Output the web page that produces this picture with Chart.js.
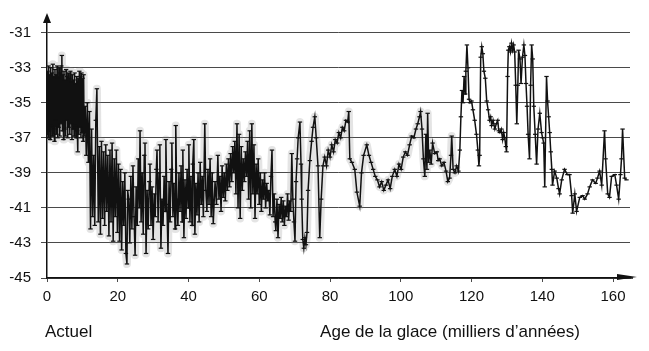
<!DOCTYPE html>
<html>
<head>
<meta charset="utf-8">
<script src="https://cdn.jsdelivr.net/npm/chart.js@4/dist/chart.umd.min.js"></script>
<style>
  html, body { margin: 0; padding: 0; background: #fff; }
  #wrap { position: relative; width: 649px; height: 351px; }
</style>
</head>
<body>
<div id="wrap"><canvas id="chart" width="649" height="351"></canvas></div>
<script>
/* ---------- data ---------- */
const ages = [
  0.0, 0.15, 0.3, 0.45, 0.6, 0.75, 0.9, 1.05, 1.2, 1.35,
  1.5, 1.65, 1.8, 1.95, 2.1, 2.25, 2.4, 2.55, 2.7, 2.85,
  3.0, 3.15, 3.3, 3.45, 3.6, 3.75, 3.9, 4.05, 4.2, 4.35,
  4.5, 4.65, 4.8, 4.95, 5.1, 5.25, 5.4, 5.55, 5.7, 5.85,
  6.0, 6.15, 6.3, 6.45, 6.6, 6.75, 6.9, 7.05, 7.2, 7.35,
  7.5, 7.65, 7.8, 7.95, 8.1, 8.25, 8.4, 8.55, 8.7, 8.85,
  9.0, 9.15, 9.3, 9.45, 9.6, 9.75, 9.9, 10.05, 10.2, 10.35,
  10.5, 10.8, 11.1, 11.4, 11.7,
  12.0, 12.3, 12.6, 12.9, 13.2, 13.5, 13.8, 14.1, 14.5, 14.8,
  15.1, 15.4, 15.7, 16.0, 16.3, 16.6, 16.9, 17.2, 17.5, 17.8,
  18.1, 18.4, 18.7, 19.0, 19.3, 19.6, 19.9, 20.2, 20.5, 20.8,
  21.1, 21.4, 21.7, 22.0, 22.3, 22.6, 22.8,
  23.1, 23.4, 23.7, 24.0, 24.3, 24.6, 24.9, 25.2, 25.5, 25.8,
  26.1, 26.3, 26.6, 26.9, 27.2, 27.5, 27.7, 28.0, 28.3, 28.6,
  28.9, 29.1, 29.4, 29.7, 30.0, 30.3, 30.6, 30.9, 31.1, 31.4,
  31.7, 31.9, 32.2, 32.5, 32.8, 33.1, 33.4, 33.6, 33.9, 34.2,
  34.5, 34.8, 35.1, 35.3, 35.6, 35.9, 36.2, 36.4, 36.7, 37.0,
  37.3, 37.6, 37.9, 38.2, 38.4, 38.7, 39.0, 39.3, 39.6, 39.9,
  40.1, 40.4, 40.7, 41.0, 41.2, 41.5, 41.8, 42.1, 42.4, 42.7,
  43.0, 43.3, 43.6, 43.9, 44.2, 44.6, 44.9, 45.2, 45.5, 45.8,
  46.1, 46.4, 46.7,
  47.0, 47.5, 47.9, 48.3, 48.6, 48.9, 49.2, 49.5, 49.8, 50.1,
  50.4, 50.7, 51.0, 51.3, 51.6, 51.9, 52.2, 52.5, 52.8, 53.1,
  53.4, 53.7, 54.0, 54.3, 54.6, 54.9, 55.2, 55.5, 55.8, 56.1,
  56.4, 56.7, 57.0, 57.3, 57.6, 57.9, 58.2, 58.5, 58.8, 59.1,
  59.4, 59.7, 60.0, 60.3, 60.6, 60.9, 61.2, 61.5, 61.8, 62.1,
  62.4, 62.7, 63.0, 63.3, 63.6, 63.9, 64.2, 64.5, 64.7, 65.0,
  65.3, 65.6, 65.9, 66.2, 66.5, 66.8, 67.1, 67.4, 67.7, 68.0,
  68.3, 68.6, 68.9, 69.2, 69.5, 69.8, 70.1, 70.4, 70.7, 71.0,
  71.5, 71.8,
  72.0, 72.3, 72.6, 72.9, 73.2, 73.5, 73.8, 74.3, 74.8, 75.2,
  75.7, 76.1, 76.6, 77.1, 77.5, 78.0, 78.5, 79.0, 79.5, 80.0,
  80.5, 81.0, 81.5, 82.0, 82.5, 83.0, 83.5, 84.0, 84.5, 85.0,
  85.3, 85.6, 86.2, 87.0, 87.6, 88.4, 88.9, 89.5, 90.4, 91.0,
  91.6, 92.2, 92.8, 93.4, 94.0, 94.6, 95.2, 95.8,
  96.4, 97.0, 97.6, 98.3, 98.9, 99.5, 100.1, 100.7, 101.3, 101.9,
  102.5, 103.1, 103.7, 104.3, 104.8, 105.3, 105.6, 106.0, 106.4, 106.8,
  107.1, 107.4, 107.6, 107.9, 108.2, 108.6, 109.0, 109.6, 110.2, 110.6,
  111.0, 111.6, 112.2, 112.8, 113.3, 113.8, 114.2, 114.4, 114.8, 115.3,
  115.8, 116.3,
  116.7, 117.0, 117.3, 117.6, 117.9, 118.2, 118.4, 118.7, 119.0, 119.3,
  119.6, 120.0, 120.4, 120.9, 121.4, 121.8, 122.1, 122.3, 122.6, 122.9,
  123.2, 123.5, 123.9, 124.3, 124.7, 125.1, 125.4, 125.7, 126.1, 126.6,
  127.0, 127.4, 127.7, 128.0, 128.4, 128.8, 129.1, 129.4, 129.7, 129.9,
  130.2, 130.4, 130.7, 131.0, 131.3, 131.6, 131.9, 132.2, 132.5, 132.8,
  133.1, 133.3, 133.7, 134.0, 134.4, 134.8, 135.1, 135.4, 135.7, 136.0,
  136.4, 136.7, 137.0, 137.3, 137.6, 138.0, 138.4, 138.8, 139.3, 139.8,
  140.1, 140.4, 140.7, 141.2, 141.5, 141.8, 142.1, 142.4, 142.7, 142.9,
  143.5, 144.1, 144.6, 144.9, 145.5, 146.3, 147.1, 147.7, 148.3, 148.6,
  149.2, 149.7, 150.6, 151.4, 152.0, 152.8, 153.4, 154.2, 155.1, 155.6,
  156.2, 156.8, 157.6, 157.9, 158.5, 159.0, 159.6, 160.5, 161.0, 161.6,
  162.1, 162.4, 162.7, 163.3, 163.8
];

const d18O = [
  -36.8, -33.2, -37.0, -32.9, -36.6, -33.4, -37.1, -33.0, -36.3, -33.3,
  -36.9, -32.8, -36.5, -33.5, -37.2, -33.1, -36.0, -33.4, -36.8, -32.9,
  -37.0, -33.6, -36.4, -33.0, -36.9, -33.3, -36.2, -32.9, -32.3, -36.6,
  -33.4, -37.1, -33.2, -36.5, -33.7, -36.9, -33.1, -36.0, -33.5, -37.0,
  -33.3, -36.4, -33.6, -36.8, -33.2, -36.2, -33.8, -37.1, -33.4, -36.5,
  -33.7, -36.9, -33.3, -36.3, -33.9, -37.0, -33.5, -36.6, -37.8, -33.6,
  -36.8, -33.2, -36.4, -33.5, -37.0, -33.3, -36.7, -33.6, -37.2, -33.4,
  -36.9, -35.2, -38.0, -35.0, -38.4,
  -35.5, -42.2, -36.5, -41.5, -38.0, -42.0, -36.0, -34.2, -41.8, -37.5,
  -42.5, -37.2, -41.6, -37.8, -42.0, -37.4, -41.2, -38.0, -42.6, -37.7,
  -41.8, -37.3, -42.9, -38.2, -41.5, -37.7, -42.4, -38.5, -42.9, -38.8,
  -43.4, -39.5, -42.0, -39.0, -43.6, -44.2, -40.0,
  -40.5, -43.0, -39.2, -42.2, -38.6, -41.5, -43.7, -39.8, -42.0, -38.2,
  -41.0, -36.6, -41.8, -39.0, -42.5, -38.0, -37.3, -43.6, -40.0, -42.2,
  -39.5, -38.5, -42.0, -39.8, -42.8, -40.2, -41.5, -38.8, -37.7, -41.8,
  -39.0, -37.4, -43.3, -40.5, -42.0, -39.2, -41.2, -37.1, -40.8, -43.6,
  -39.5, -41.8, -38.8, -37.3, -41.5, -39.6, -42.2, -36.3, -40.5, -42.0,
  -39.0, -41.2, -38.6, -41.8, -37.7, -42.7, -39.4, -41.6, -38.8, -41.0,
  -37.4, -41.8, -39.2, -42.0, -38.5, -37.1, -42.5, -39.6, -41.4, -39.0,
  -41.8, -38.4, -40.8, -39.2, -41.5, -36.2, -40.0, -41.2, -38.8, -40.8,
  -38.2, -41.5, -39.0,
  -41.9, -39.5, -40.8, -38.0, -40.5, -39.2, -41.2, -38.6, -40.4, -39.0,
  -40.6, -38.5, -40.0, -38.2, -39.8, -37.9, -39.5, -37.5, -39.0, -37.2,
  -40.2, -36.2, -41.0, -36.8, -41.6, -37.5, -40.0, -38.2, -39.5, -37.8,
  -39.2, -37.2, -40.5, -36.6, -41.0, -36.2, -40.2, -37.4, -41.6, -38.5,
  -40.2, -38.2, -40.8, -39.0, -41.2, -39.4, -40.5, -39.0, -41.0, -39.6,
  -40.6, -40.0, -41.4, -39.2, -37.7, -41.5, -40.2, -41.8, -42.3, -40.5,
  -42.7, -40.8, -41.6, -40.4, -41.8, -40.6, -42.0, -40.9, -41.5, -40.2,
  -41.7, -40.6, -41.2, -37.9, -40.5, -41.8, -42.9, -39.5, -38.2, -37.0,
  -36.1, -38.5,
  -40.5, -42.8, -43.3, -42.7, -43.1, -42.4, -40.0, -38.3, -37.2, -36.4,
  -35.8, -37.0, -38.6, -42.7, -40.5, -38.6, -38.1, -38.6, -37.7, -38.1,
  -37.4, -37.8, -37.1, -37.3, -36.7, -37.0, -36.4, -36.6, -36.0, -36.1,
  -35.5, -38.2, -38.4, -38.8, -40.1, -40.9, -39.0, -38.0, -37.4, -38.0,
  -38.4, -38.8, -39.2, -39.4, -39.8, -39.5, -40.0, -39.7,
  -39.4, -39.9, -39.2, -38.8, -39.2, -38.5, -38.8, -38.1, -37.8, -38.0,
  -37.4, -36.9, -37.0, -36.5, -36.2, -35.8, -35.5, -36.5, -38.2, -39.2,
  -36.8, -38.8, -35.6, -38.4, -37.7, -38.5, -37.3, -37.9, -37.8, -38.3,
  -38.2, -38.6, -38.4, -38.9, -39.5, -39.3, -38.0, -36.9, -38.8, -39.0,
  -38.6, -38.9,
  -37.7, -35.8, -34.3, -35.0, -33.5, -34.5, -33.2, -31.7, -33.0, -34.8,
  -35.0, -34.9, -35.4, -36.0, -36.8, -37.7, -38.6, -38.0, -32.4, -31.8,
  -32.2, -33.2, -33.6, -34.9, -35.4, -36.0, -35.8, -36.3, -36.0, -36.5,
  -36.2, -36.0, -36.6, -36.7, -36.5, -37.1, -36.7, -37.0, -37.5, -37.8,
  -33.5, -32.0, -31.8, -32.1, -31.6, -32.0, -31.7, -32.1, -34.0, -36.2,
  -34.0, -32.0, -32.5, -33.9, -32.4, -31.7, -32.3, -33.9, -35.2, -36.8,
  -38.2, -34.0, -31.7, -32.5, -35.2, -36.8, -38.5, -36.5, -35.6, -36.7,
  -37.0, -37.3, -39.8, -33.5, -34.9, -35.8, -36.7, -37.8, -38.8, -39.7,
  -38.9, -39.3, -39.9, -40.2, -39.4, -38.8, -39.1, -39.1, -40.3, -41.3,
  -40.2, -41.2, -40.4, -40.3, -40.5, -40.2, -39.8, -39.4, -39.6, -39.3,
  -38.9, -39.7, -36.6, -38.2, -40.2, -40.4, -39.2, -39.1, -39.7, -40.5,
  -39.1, -38.2, -36.5, -39.3, -39.4
];

const xTicks = [0, 20, 40, 60, 80, 100, 120, 140, 160];
const yTicks = [-45, -43, -41, -39, -37, -35, -33, -31];

/* ---------- style ---------- */
const FONT  = "'Liberation Sans', Arial, sans-serif";
const INK   = '#111';
const GRID  = '#4a4a4a';
const HALO_END = 116;        // grey smear only under the dense glacial part
const X_MAX = 164.8;
const Y_MAX = -30.22;

const points = ages.map((a, i) => ({ x: a, y: d18O[i] }));
const halo   = points.filter(p => p.x < HALO_END);

/* arrows on the axes + captions under the x axis */
const decor = {
  id: 'decor',
  afterDraw(chart) {
    const { ctx, chartArea: a, scales: { x } } = chart;
    ctx.save();
    ctx.fillStyle = INK;
    ctx.strokeStyle = INK;

    // y arrow
    ctx.beginPath();
    ctx.moveTo(a.left, a.top - 6);
    ctx.lineTo(a.left - 4, a.top + 4);
    ctx.lineTo(a.left + 4, a.top + 4);
    ctx.closePath();
    ctx.fill();

    // x arrow
    ctx.lineWidth = 1.5;
    ctx.beginPath();
    ctx.moveTo(a.right, a.bottom);
    ctx.lineTo(a.right + 3, a.bottom);
    ctx.stroke();
    ctx.beginPath();
    ctx.moveTo(a.right + 7, a.bottom - 1);
    ctx.lineTo(a.right - 13, a.bottom - 4);
    ctx.lineTo(a.right - 13, a.bottom + 2);
    ctx.closePath();
    ctx.fill();

    // captions
    ctx.font = `17px ${FONT}`;
    ctx.textAlign = 'left';
    ctx.textBaseline = 'alphabetic';
    ctx.fillText('Actuel', x.getPixelForValue(0) - 2, 337);
    ctx.fillText('Age de la glace (milliers d\u2019années)', x.getPixelForValue(77.2), 337);
    ctx.restore();
  }
};

new Chart(document.getElementById('chart'), {
  type: 'line',
  data: {
    datasets: [
      {
        data: points,
        borderColor: INK,
        borderWidth: 1.5,
        tension: 0,
        pointStyle: 'line',
        pointRadius: 2.2,
        pointBorderWidth: 1.2,
        pointBorderColor: INK,
        order: 0,
      },
      {
        data: halo,
        borderColor: 'rgba(130,130,130,0.22)',
        borderWidth: 8,
        borderJoinStyle: 'round',
        tension: 0,
        pointRadius: 0,
        order: 1,
      },
    ],
  },
  options: {
    responsive: false,
    animation: false,
    layout: { padding: { top: 14, right: 19, left: 0, bottom: 0 } },
    plugins: { legend: { display: false }, tooltip: { enabled: false } },
    scales: {
      x: {
        type: 'linear',
        min: 0,
        max: X_MAX,
        afterBuildTicks: s => { s.ticks = xTicks.map(v => ({ value: v })); },
        afterFit: s => { s.height = 73; },
        grid: { drawOnChartArea: false, tickLength: 4, color: GRID },
        border: { display: true, color: INK, width: 1.5 },
        ticks: { color: INK, font: { family: FONT, size: 15 }, padding: 6, maxRotation: 0, autoSkip: false },
      },
      y: {
        min: -45,
        max: Y_MAX,
        afterBuildTicks: s => { s.ticks = yTicks.map(v => ({ value: v })); },
        afterFit: s => { s.width = 47; },
        grid: { color: GRID, lineWidth: 1, tickLength: 6 },
        border: { display: true, color: INK, width: 1.5 },
        ticks: { color: INK, font: { family: FONT, size: 15 }, padding: 10 },
      },
    },
  },
  plugins: [decor],
});
</script>
</body>
</html>
